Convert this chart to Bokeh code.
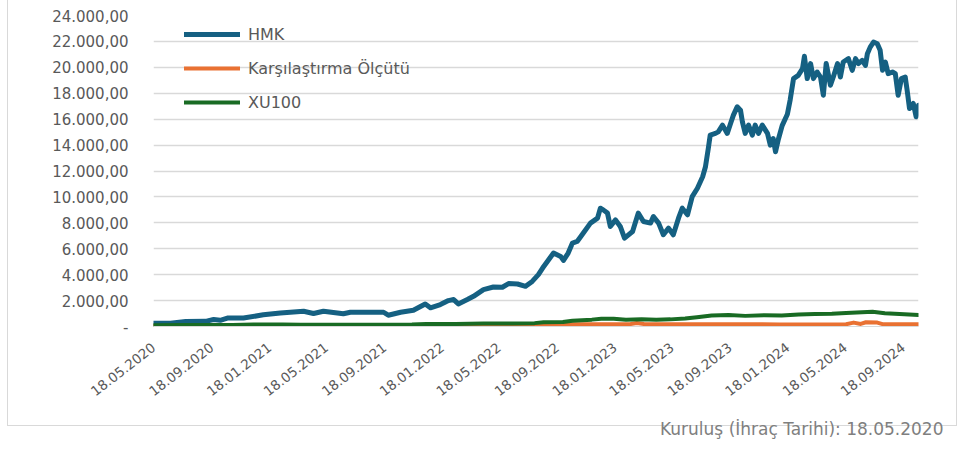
import pandas as pd
from bokeh.plotting import figure
from bokeh.models import Range1d, FixedTicker, Legend, LegendItem, Title
from bokeh.embed import file_html
from bokeh.resources import INLINE

# ---------------- data ----------------
hmk_dates = ["2020-05-18","2020-06-23","2020-07-25","2020-09-05","2020-09-22","2020-10-06","2020-10-21","2020-11-24",
             "2021-01-05","2021-02-10","2021-03-31","2021-04-21","2021-05-12","2021-06-23","2021-07-08","2021-09-16",
             "2021-09-26","2021-10-22","2021-11-18","2021-12-13","2021-12-24","2022-01-14","2022-01-31","2022-02-11",
             "2022-02-21","2022-03-12","2022-03-25","2022-04-15","2022-05-06","2022-05-25","2022-06-07","2022-06-26",
             "2022-07-13","2022-07-27","2022-08-09","2022-08-18","2022-08-28","2022-09-10","2022-09-25","2022-10-01",
             "2022-10-11","2022-10-20","2022-10-30","2022-11-12","2022-11-27","2022-12-12","2022-12-18","2022-12-24",
             "2023-01-02","2023-01-08","2023-01-19","2023-01-29","2023-02-07","2023-02-24","2023-03-08","2023-03-19",
             "2023-04-03","2023-04-09","2023-04-20","2023-04-30","2023-05-11","2023-05-21","2023-06-01","2023-06-09",
             "2023-06-20","2023-06-30","2023-07-11","2023-07-22","2023-07-28","2023-08-03","2023-08-07","2023-08-18",
             "2023-08-24","2023-09-02","2023-09-12","2023-09-19","2023-09-25","2023-10-03","2023-10-10","2023-10-14",
             "2023-10-20","2023-10-27","2023-11-04","2023-11-10","2023-11-17","2023-11-25","2023-12-06","2023-12-12",
             "2023-12-18","2023-12-23","2023-12-29","2024-01-06","2024-01-17","2024-01-23","2024-01-30","2024-02-09",
             "2024-02-18","2024-02-22","2024-02-28","2024-03-06","2024-03-12","2024-03-20","2024-03-27","2024-04-02",
             "2024-04-08","2024-04-17","2024-04-23","2024-05-02","2024-05-08","2024-05-14","2024-05-25","2024-06-02",
             "2024-06-09","2024-06-15","2024-06-23","2024-06-30","2024-07-04","2024-07-10","2024-07-17","2024-07-25",
             "2024-07-31","2024-08-05","2024-08-11","2024-08-17","2024-08-26","2024-09-01","2024-09-07","2024-09-14",
             "2024-09-22","2024-09-26","2024-10-01","2024-10-09","2024-10-15","2024-10-20"]
hmk_values = [250,260,380,400,540,480,650,650,
              900,1050,1180,1000,1180,980,1100,1100,
              870,1100,1250,1740,1440,1690,2000,2080,
              1740,2080,2330,2850,3050,3030,3310,3280,
              3100,3480,4000,4510,5020,5670,5410,5100,
              5670,6440,6560,7210,7980,8360,9130,9000,
              8750,7720,8230,7720,6820,7330,8750,8100,
              7980,8490,7980,7080,7590,7080,8360,9130,
              8620,10020,10670,11560,12330,13750,14770,14900,
              15020,15540,14900,15670,16310,16950,16690,15790,
              14900,15540,14770,15540,14900,15540,14900,14000,
              14510,13490,14450,15500,16380,17500,19130,19380,
              19900,20850,19130,20290,19130,19640,19250,17850,
              20290,18620,19250,20290,19250,20410,20670,19770,
              20670,20290,20540,20150,21050,21560,21950,21820,
              21310,19770,20410,19510,19640,19510,17850,19130,
              19250,18230,16820,17210,16180,17080]

bench_dates = ["2020-05-18","2020-12-15","2021-02-15","2021-03-25","2022-08-15","2022-08-25","2022-10-20",
               "2023-02-20","2023-03-05","2023-03-20","2023-12-31","2024-05-20","2024-06-05","2024-06-20",
               "2024-07-01","2024-07-25","2024-08-05","2024-10-20"]
bench_values = [40,60,110,60,60,110,180,
                200,270,200,160,180,300,200,
                330,300,180,170]

xu100_dates = ["2020-05-18","2020-07-15","2020-09-15","2020-11-01","2020-12-15","2021-02-15","2021-03-25",
               "2021-06-15","2021-09-15","2021-11-15","2021-12-15","2022-02-15","2022-04-15","2022-06-15",
               "2022-08-01","2022-08-20","2022-09-30","2022-10-20","2022-11-30","2022-12-20","2023-01-15",
               "2023-02-10","2023-03-15","2023-04-15","2023-05-15","2023-06-15","2023-07-10","2023-08-10",
               "2023-09-15","2023-10-20","2023-11-30","2024-01-05","2024-02-10","2024-03-15","2024-04-20",
               "2024-05-20","2024-07-15","2024-08-10","2024-09-10","2024-10-20"]
xu100_values = [100,110,115,120,145,160,135,
                140,140,150,200,200,230,235,
                260,330,340,450,530,600,590,
                530,560,520,550,620,720,850,
                880,820,870,840,930,960,990,
                1050,1130,1030,960,880]

series_names = ["HMK", "Karşılaştırma Ölçütü", "XU100"]

x_tick_dates = ["2020-05-18","2020-09-18","2021-01-18","2021-05-18","2021-09-18","2022-01-18","2022-05-18",
                "2022-09-18","2023-01-18","2023-05-18","2023-09-18","2024-01-18","2024-05-18","2024-09-18"]
x_tick_labels = ["18.05.2020","18.09.2020","18.01.2021","18.05.2021","18.09.2021","18.01.2022","18.05.2022",
                 "18.09.2022","18.01.2023","18.05.2023","18.09.2023","18.01.2024","18.05.2024","18.09.2024"]

y_ticks = [0,2000,4000,6000,8000,10000,12000,14000,16000,18000,20000,22000,24000]
y_tick_labels = ["-","2.000,00","4.000,00","6.000,00","8.000,00","10.000,00","12.000,00","14.000,00",
                 "16.000,00","18.000,00","20.000,00","22.000,00","24.000,00"]

footer_text = "Kuruluş (İhraç Tarihi): 18.05.2020"
x_start, x_end = "2020-05-18", "2024-10-20"

# ---------------- figure ----------------
def ms(d):
    return int(pd.Timestamp(d).value // 10**6)

G = "linear-gradient(#D9D9D9, #D9D9D9)"
p = figure(width=958, height=452, x_axis_type="datetime", output_backend="svg", toolbar_location=None,
           min_border_left=153, min_border_right=40, min_border_top=15, min_border_bottom=125,
           styles={"background-color": "white",
                   "background-image": f"{G}, {G}, {G}",
                   "background-size": "1px 426px, 950px 1px, 1px 426px",
                   "background-position": "7px 0px, 7px 425px, 956px 0px",
                   "background-repeat": "no-repeat"})
p.x_range = Range1d(pd.Timestamp(x_start), pd.Timestamp(x_end))
p.y_range = Range1d(0, 24000)
p.outline_line_color = None
p.background_fill_color = "white"
p.border_fill_alpha = 0

TXT = "#595959"
FONT = "DejaVu Sans"

p.xgrid.visible = False
p.ygrid.grid_line_color = "#D9D9D9"
p.ygrid.grid_line_width = 1.3
p.ygrid.ticker = FixedTicker(ticks=y_ticks)

p.yaxis.ticker = FixedTicker(ticks=y_ticks)
p.yaxis.major_label_overrides = {t: l for t, l in zip(y_ticks, y_tick_labels)}
p.yaxis.axis_line_color = None
p.yaxis.major_tick_line_color = None
p.yaxis.minor_tick_line_color = None
p.yaxis.major_tick_out = 0
p.yaxis.minor_tick_out = 0
p.yaxis.major_label_standoff = 25
p.yaxis.major_label_text_font = FONT
p.yaxis.major_label_text_font_size = "15px"
p.yaxis.major_label_text_color = TXT

xt = [ms(d) for d in x_tick_dates]
p.xaxis.ticker = FixedTicker(ticks=xt)
p.xaxis.major_label_overrides = {t: l for t, l in zip(xt, x_tick_labels)}
p.xaxis.axis_line_color = "#D9D9D9"
p.xaxis.major_tick_line_color = None
p.xaxis.minor_tick_line_color = None
p.xaxis.major_tick_out = 0
p.xaxis.minor_tick_out = 0
p.xaxis.major_label_orientation = 0.66
p.xaxis.major_label_standoff = 19
p.xaxis.major_label_text_font = FONT
p.xaxis.major_label_text_font_size = "13.5px"
p.xaxis.major_label_text_color = TXT

colors = ["#156082", "#E97132", "#196B24"]
r1 = p.line(pd.to_datetime(hmk_dates), hmk_values, line_color=colors[0], line_width=5,
            line_join="round", line_cap="round")
r2 = p.line(pd.to_datetime(bench_dates), bench_values, line_color=colors[1], line_width=4,
            line_join="round", line_cap="round")
r3 = p.line(pd.to_datetime(xu100_dates), xu100_values, line_color=colors[2], line_width=4,
            line_join="round", line_cap="round")

legend = Legend(items=[LegendItem(label=series_names[0], renderers=[r1]),
                       LegendItem(label=series_names[1], renderers=[r2]),
                       LegendItem(label=series_names[2], renderers=[r3])],
                location=(31, 214), orientation="vertical")
legend.glyph_width = 56
legend.glyph_height = 20
legend.label_height = 20
legend.spacing = 14
legend.padding = 0
legend.margin = 0
legend.label_standoff = 8
legend.label_text_font = FONT
legend.label_text_font_size = "16px"
legend.label_text_color = TXT
legend.background_fill_alpha = 0
legend.border_line_color = None
p.add_layout(legend)

foot = Title(text=footer_text, align="right", offset=-25, standoff=27, text_baseline="middle",
             text_font=FONT, text_font_size="17px", text_font_style="normal", text_color="#7F7F7F")
p.add_layout(foot, "below")

open("out.html", "w").write(file_html(p, INLINE))
